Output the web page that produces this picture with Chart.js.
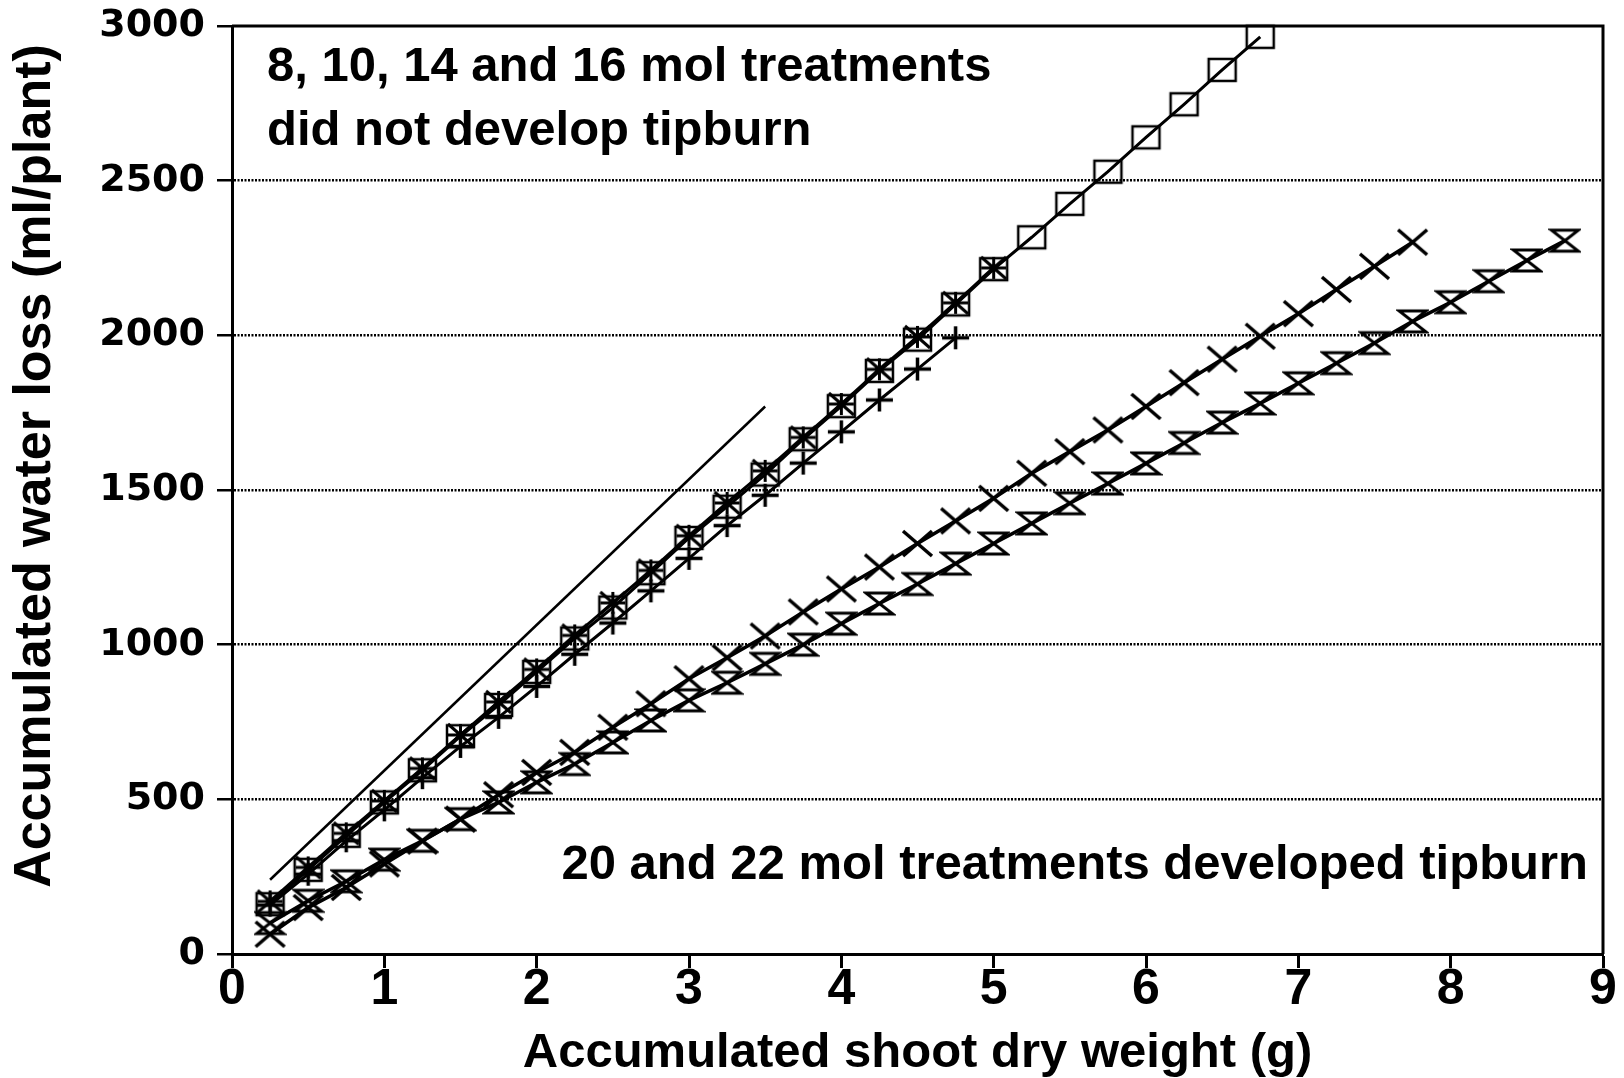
<!DOCTYPE html>
<html>
<head>
<meta charset="utf-8">
<title>Accumulated water loss vs shoot dry weight</title>
<script src="https://cdn.jsdelivr.net/npm/chart.js@4"></script>
<style>
  body { margin: 0; background: #fff; }
  canvas { display: block; }
</style>
</head>
<body>
<canvas id="waterLossChart" width="1624" height="1078"></canvas>
<script>
// harvest steps of accumulated shoot dry weight (g)
const weightSteps = [0.25, 0.5, 0.75, 1, 1.25, 1.5, 1.75, 2, 2.25, 2.5, 2.75, 3, 3.25, 3.5, 3.75, 4,
    4.25, 4.5, 4.75, 5, 5.25, 5.5, 5.75, 6, 6.25, 6.5, 6.75, 7, 7.25, 7.5, 7.75, 8, 8.25, 8.5, 8.75];

// accumulated water loss (ml/plant), one list per marker
const squareLoss = [161, 272, 382, 490, 594, 704, 805, 912, 1020, 1120, 1231, 1345, 1446, 1550, 1664, 1771,
    1885, 1986, 2100, 2214, 2317, 2425, 2529, 2640, 2747, 2858, 2965];
const starLoss = [170, 280, 390, 495, 600, 708, 815, 920, 1030, 1135, 1240, 1352, 1458, 1562, 1670, 1778,
    1890, 1995, 2105, 2218];
const plusLoss = [158, 258, 366, 466, 570, 671, 765, 865, 969, 1070, 1174, 1279, 1385, 1483, 1587, 1688,
    1791, 1891, 1992];
const crossLoss = [64, 150, 215, 291, 365, 436, 515, 587, 652, 733, 809, 890, 958, 1028, 1106, 1180,
    1251, 1327, 1400, 1473, 1554, 1624, 1694, 1770, 1847, 1923, 1997, 2070, 2148, 2223, 2301];
const hourglassLoss = [100, 172, 235, 305, 366, 436, 490, 555, 614, 684, 755, 820, 877, 938, 1000, 1068,
    1133, 1196, 1262, 1327, 1392, 1457, 1521, 1586, 1652, 1718, 1780, 1845, 1910, 1975, 2045, 2107,
    2175, 2242, 2306];

// plain straight line, no markers
const guideWeight = [0.25, 3.5];
const guideLoss = [240, 1770];

const xTickValues = [0, 1, 2, 3, 4, 5, 6, 7, 8, 9];
const yTickValues = [0, 500, 1000, 1500, 2000, 2500, 3000];

const noTipburnNote = ['8, 10, 14 and 16 mol treatments', 'did not develop tipburn'];
const tipburnNote = '20 and 22 mol treatments developed tipburn';

// open line-art markers drawn once on small canvases
function makeMarker(shape, w, h, lw) {
    const c = document.createElement('canvas');
    c.width = w + 6;
    c.height = h + 6;
    const g = c.getContext('2d');
    g.strokeStyle = '#000';
    g.lineWidth = lw;
    g.translate(c.width / 2, c.height / 2);
    const hw = w / 2, hh = h / 2;
    g.beginPath();
    if (shape === 'square') g.rect(-hw, -hh, w, h);
    if (shape === 'plus' || shape === 'star') {
        g.moveTo(-hw, 0); g.lineTo(hw, 0);
        g.moveTo(0, -hh); g.lineTo(0, hh);
    }
    if (shape === 'cross' || shape === 'star') {
        g.moveTo(-hw, -hh); g.lineTo(hw, hh);
        g.moveTo(hw, -hh); g.lineTo(-hw, hh);
    }
    if (shape === 'hourglass') {
        g.moveTo(-hw, -hh); g.lineTo(hw, -hh);
        g.lineTo(-hw, hh); g.lineTo(hw, hh);
        g.closePath();
    }
    g.stroke();
    return c;
}

function pairs(xs, ys) {
    return ys.map((y, i) => ({ x: xs[i], y: y }));
}

function series(label, ys, marker, width) {
    return {
        label: label,
        data: pairs(weightSteps, ys),
        showLine: true,
        borderColor: '#000',
        backgroundColor: 'transparent',
        borderWidth: width,
        pointStyle: marker,
        pointRadius: 12,
        tension: 0,
        clip: false
    };
}

// top and right sides of the box plus the two notes and the y title
const framePlugin = {
    id: 'frame',
    afterDraw(chart) {
        const { ctx, chartArea: a } = chart;
        ctx.save();
        ctx.strokeStyle = '#000';
        ctx.lineWidth = 3;
        ctx.beginPath();
        ctx.moveTo(a.left, a.top);
        ctx.lineTo(a.right, a.top);
        ctx.lineTo(a.right, a.bottom);
        ctx.stroke();

        ctx.fillStyle = '#000';
        ctx.textBaseline = 'middle';
        ctx.font = 'bold 49px "Liberation Sans", Arial, sans-serif';
        ctx.textAlign = 'left';
        ctx.fillText(noTipburnNote[0], a.left + 35, a.top + 41);
        ctx.fillText(noTipburnNote[1], a.left + 35, a.top + 105);
        ctx.textAlign = 'right';
        ctx.fillText(tipburnNote, a.right - 15, a.bottom - 89);

        ctx.translate(36, 466);
        ctx.rotate(-Math.PI / 2);
        ctx.textAlign = 'center';
        ctx.font = 'bold 52px "Liberation Sans", Arial, sans-serif';
        ctx.fillText('Accumulated water loss (ml/plant)', 0, 0);
        ctx.restore();
    }
};

const chart = new Chart(document.getElementById('waterLossChart'), {
    type: 'scatter',
    data: {
        datasets: [
            {
                label: 'guide',
                data: pairs(guideWeight, guideLoss),
                showLine: true,
                borderColor: '#000',
                borderWidth: 2.5,
                pointRadius: 0,
                tension: 0
            },
            series('squares', squareLoss, makeMarker('square', 27, 22, 2.5), 3),
            series('stars', starLoss, makeMarker('star', 25, 22, 3), 3),
            series('plus', plusLoss, makeMarker('plus', 27, 23, 3.5), 3),
            series('crosses', crossLoss, makeMarker('cross', 29, 25, 3.5), 3.5),
            series('hourglass', hourglassLoss, makeMarker('hourglass', 27, 21, 3), 3.5)
        ]
    },
    options: {
        responsive: false,
        animation: false,
        layout: { padding: { top: 26, right: 21, left: 0, bottom: 0 } },
        plugins: {
            legend: { display: false },
            tooltip: { enabled: false }
        },
        scales: {
            x: {
                type: 'linear',
                min: 0,
                max: 9,
                afterBuildTicks: s => { s.ticks = xTickValues.map(v => ({ value: v })); },
                afterFit: s => { s.height = 124; s.paddingLeft = 0; s.paddingRight = 0; },
                ticks: {
                    color: '#000',
                    padding: -3,
                    font: { family: '"Liberation Sans Narrow", "Liberation Sans", Arial, sans-serif', weight: 'bold', size: 50, lineHeight: 1 }
                },
                grid: { drawOnChartArea: false, tickLength: 14, tickWidth: 3, tickColor: '#000' },
                border: { display: true, color: '#000', width: 3 },
                title: {
                    display: true,
                    text: 'Accumulated shoot dry weight (g)',
                    color: '#000',
                    padding: 0,
                    font: { family: '"Liberation Sans", Arial, sans-serif', weight: 'bold', size: 49, lineHeight: 1 }
                }
            },
            y: {
                min: 0,
                max: 3000,
                afterBuildTicks: s => { s.ticks = yTickValues.map(v => ({ value: v })); },
                afterFit: s => { s.width = 232; s.paddingTop = 0; s.paddingBottom = 0; },
                ticks: {
                    color: '#000',
                    padding: 12,
                    callback: v => String(v),
                    font: { family: '"DejaVu Sans", sans-serif', weight: 'bold', size: 38, lineHeight: 1 }
                },
                grid: {
                    color: c => (c.tick && (c.tick.value === 0 || c.tick.value === 3000)) ? 'transparent' : '#000',
                    lineWidth: 2.5,
                    tickLength: 15,
                    tickWidth: 2.5,
                    tickColor: '#000'
                },
                border: { display: true, color: '#000', width: 3, dash: [2, 1.5] }
            }
        }
    },
    plugins: [framePlugin]
});
</script>
</body>
</html>
